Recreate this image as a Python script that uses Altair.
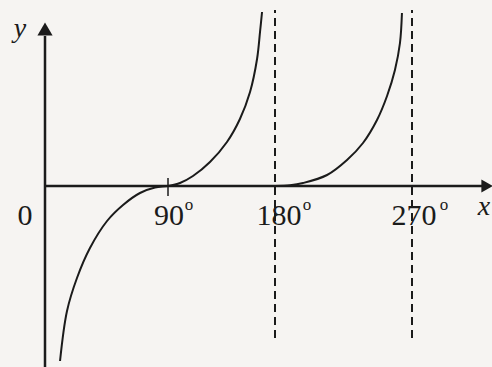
import altair as alt
import pandas as pd

# Branch through 90°: rises from -inf, flat inflection on the axis, up to the 180° asymptote
left_deg = [11.0, 16.1, 23.4, 32.9, 45.4, 57.1, 69.5, 80.5, 90.0, 100.1, 111.0,
            125.3, 139.6, 150.5, 159.0, 164.9, 167.4, 169.1]
left_val = [-3.5, -2.5, -1.84, -1.24, -0.70, -0.38, -0.14, -0.03, 0.0, 0.06, 0.2,
            0.48, 0.88, 1.34, 1.88, 2.54, 3.08, 3.48]

# Branch starting flat at 180°, rising to the 270° asymptote
right_deg = [180.0, 189.9, 198.4, 214.2, 227.3, 237.8, 247.0, 253.6, 258.8, 262.1, 263.4]
right_val = [0.0, 0.015, 0.06, 0.22, 0.52, 0.86, 1.32, 1.8, 2.32, 2.86, 3.46]

asymptotes = [180, 270]
asym_top, asym_bottom = 3.52, -3.04

tick_pos = [90, 180, 270]
tick_text = ["90", "180", "270"]
tick_dx = [1, 4, 2]
deg_dx = [21, 32, 32]

INK = "#1b1b1b"
FONT = "Liberation Serif"

curve = pd.DataFrame({
    "deg": left_deg + right_deg,
    "val": left_val + right_val,
    "branch": ["a"] * len(left_deg) + ["b"] * len(right_deg),
})

xs = alt.Scale(domain=[0, 90, 180, 270], range=[45, 168, 275, 412], nice=False, zero=False)
ys = alt.Scale(domain=[-3.62, 3.72], nice=False, zero=False)
X = lambda f: alt.X(f, type="quantitative", scale=xs, axis=None)
Y = lambda f: alt.Y(f, type="quantitative", scale=ys, axis=None)

curves = alt.Chart(curve).mark_line(
    color=INK, strokeWidth=2, interpolate="catmull-rom"
).encode(x=X("deg"), y=Y("val"), detail="branch:N")

asym = alt.Chart(pd.DataFrame({"deg": asymptotes, "top": asym_top, "bot": asym_bottom})).mark_rule(
    color=INK, strokeWidth=2, strokeDash=[8, 5]
).encode(x=X("deg"), y=Y("bot"), y2="top")

# coordinate axes
x_axis = alt.Chart(pd.DataFrame({"a": [0], "b": [316], "v": [0]})).mark_rule(
    color=INK, strokeWidth=2.5
).encode(x=X("a"), x2="b", y=Y("v"))
y_axis = alt.Chart(pd.DataFrame({"d": [0], "lo": [-3.62], "hi": [3.0]})).mark_rule(
    color=INK, strokeWidth=2.5
).encode(x=X("d"), y=Y("lo"), y2="hi")

up_arrow = alt.Chart(pd.DataFrame({"d": [0], "v": [3.14]})).mark_point(
    shape="triangle-up", filled=True, color=INK, opacity=1, size=230
).encode(x=X("d"), y=Y("v"))
right_arrow = alt.Chart(pd.DataFrame({"d": [319.3], "v": [0]})).mark_point(
    shape="triangle-right", filled=True, color=INK, opacity=1, size=170
).encode(x=X("d"), y=Y("v"))

tick90 = alt.Chart(pd.DataFrame({"d": [90], "lo": [-0.2], "hi": [0.16]})).mark_rule(
    color=INK, strokeWidth=1.5
).encode(x=X("d"), y=Y("lo"), y2="hi")

label_layers = []
for p, t, dx, ddx in zip(tick_pos, tick_text, tick_dx, deg_dx):
    row = pd.DataFrame({"d": [p], "t": [t], "v": [0]})
    label_layers.append(alt.Chart(row).mark_text(
        font=FONT, fontSize=30, color=INK, align="center", baseline="alphabetic", dx=dx, dy=39
    ).encode(x=X("d"), y=Y("v"), text="t:N"))
    label_layers.append(alt.Chart(row).mark_text(
        font=FONT, fontSize=17, color=INK, align="center", baseline="alphabetic", dx=ddx, dy=24
    ).encode(x=X("d"), y=Y("v"), text=alt.value("o")))

origin = alt.Chart(pd.DataFrame({"d": [0], "v": [0], "t": ["0"]})).mark_text(
    font=FONT, fontSize=30, color=INK, align="center", baseline="alphabetic", dx=-20, dy=39
).encode(x=X("d"), y=Y("v"), text="t:N")

x_name = alt.Chart(pd.DataFrame({"d": [319.3], "v": [0], "t": ["x"]})).mark_text(
    font=FONT, fontSize=28, fontStyle="italic", color=INK, align="center", baseline="alphabetic", dx=-3, dy=29
).encode(x=X("d"), y=Y("v"), text="t:N")
y_name = alt.Chart(pd.DataFrame({"d": [0], "v": [3.0], "t": ["y"]})).mark_text(
    font=FONT, fontSize=28, fontStyle="italic", color=INK, align="center", baseline="alphabetic", dx=-25, dy=1
).encode(x=X("d"), y=Y("v"), text="t:N")

chart = alt.layer(
    asym, x_axis, y_axis, up_arrow, right_arrow, tick90, curves, origin, x_name, y_name, *label_layers
).properties(
    width=492, height=367, padding=0, autosize=alt.AutoSizeParams(type="none"),
    background="#f6f4f2"
).configure_view(stroke=None)

chart.save("out.html", embed_options={"renderer": "svg", "actions": False})
